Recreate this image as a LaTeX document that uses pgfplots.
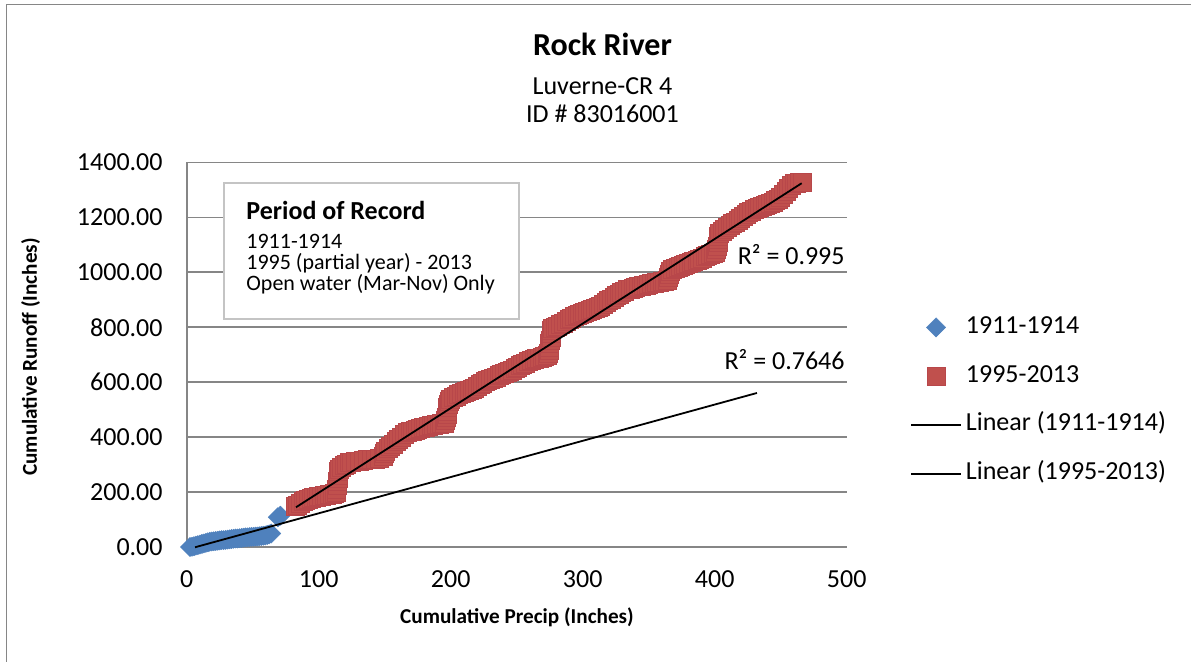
\documentclass[border=0pt]{standalone}
\usepackage{pgfplots}
\pgfplotsset{compat=1.18}
\usepackage{fontspec}
\setmainfont{Carlito}
\definecolor{xblue}{HTML}{4F81BD}
\definecolor{xred}{HTML}{C0504D}
\definecolor{xredd}{HTML}{B8474A}
\definecolor{xgrid}{HTML}{868686}
\definecolor{xbox}{HTML}{C4C4C4}
\begin{document}
\begin{tikzpicture}
\useasboundingbox (0,0) rectangle (595.5pt,-331pt);
\begin{scope}[x=0.5pt,y=-0.5pt]
 \draw[color=xgrid, line width=0.5pt] (6,662) -- (6,5) -- (1191,5);
 \node[anchor=base, font=\fontsize{16}{19}\selectfont\bfseries, inner sep=0pt] at (602.5,56) {Rock River};
 \node[anchor=base, font=\fontsize{13}{15.6}\selectfont, inner sep=0pt] at (602.5,95) {Luverne-CR 4};
 \node[anchor=base, font=\fontsize{13}{15.6}\selectfont, inner sep=0pt] at (602.5,123) {ID \# 83016001};
 \node[anchor=base, font=\fontsize{10.6}{12.7}\selectfont\bfseries, inner sep=0pt] at (517,624) {Cumulative Precip (Inches)};
 \node[anchor=base, rotate=90, font=\fontsize{10.6}{12.7}\selectfont\bfseries, inner sep=0pt] at (37,357) {Cumulative Runoff (Inches)};
\end{scope}
\begin{axis}[
  at={(93.35pt,-273.5pt)}, anchor=south west, scale only axis,
  width=330pt, height=192.25pt,
  xmin=0, xmax=500, ymin=0, ymax=1400,
  clip=false, clip mode=individual,
  axis lines*=left,
  axis line style={xgrid, line width=0.9pt},
  ymajorgrids, grid style={xgrid, line width=0.9pt},
  major tick length=0pt,
  xtick={0,100,200,300,400,500},
  xticklabels={0,100,200,300,400,500},
  ytick={0,200,400,600,800,1000,1200,1400},
  yticklabels={0.00,200.00,400.00,600.00,800.00,1000.00,1200.00,1400.00},
  ticklabel style={font=\fontsize{13}{15.6}\selectfont},
  yticklabel style={anchor=east, inner sep=0pt, xshift=-11.85pt},
  xticklabel style={anchor=base, inner sep=0pt, yshift=-20.5pt},
  legend style={draw=none, fill=none, at={(1.0955,0.6138)}, anchor=north west,
    inner sep=0pt, row sep=8.4pt, font=\fontsize{13}{15.6}\selectfont,
    nodes={inner sep=2pt, text height=9pt, text depth=3pt}},
  legend cell align=left,
  legend image code/.code={\draw[mark repeat=2,mark phase=2,#1] plot coordinates {(0pt,0pt) (12.5pt,0pt) (25pt,0pt)};},
]
\addplot[only marks, mark=square*, mark size=3.4pt, mark options={rotate=45, fill=xblue, draw=xblue, line width=0.2pt}] coordinates {
(2.5,0)(4,1)(5.5,3)(7,5)(8.5,7)(10,9)(11.5,11)(13,13)(14.5,15)(16,17)(17.5,19)(19,20)(20.5,21)(22,22)(23.5,23)(25,24)(26.5,25)(28,25)(29.5,26)(31,27)(32.5,28)(34,29)(35.5,30)(37,31)(38.5,31)(40,32)(41.5,33)(43,34)(44.5,35)(46,35)(47.5,36)(49,37)(50.5,37)(52,38)(53.5,38)(55,39)(56.5,40)(58,41)(59.5,42)(61,44)(62.5,46)(64,49)(69,108)(71,114)
};
\addlegendentry{1911-1914}
\addplot[only marks, mark=square*, mark size=4.5pt, mark options={fill=xred, draw=xredd, line width=0.2pt}] coordinates {
(82,147)(84,153)(86,159)(88,165)(90,170)(92,174)(94,177)(96,180)(98,182)(100,184)(102,186)(104,188)(106,190)(108,192)(110,194)(112,196)
(113,200)(113.5,212)(114,225)(114,238)(114.5,250)(114.5,262)(115,275)(115.5,285)
(117,292)(119,298)(121,303)(123,307)(125,310)(128,312)(131,314)(134,316)(137,318)(140,319)(143,320)(146,322)
(148.5,330)(149.5,340)(150.5,350)(152.5,358)(154.5,366)(156.5,375)(158.5,384)(160.5,393)(162.5,401)(164.5,409)(167,417)
(169,420)(171,423)(173,426)(175,429)(177,432)(179,435)(181,438)(183,441)(185,443)(187,445)(189,447)(191,448)(193,449)(195,450)
(196,460)(196.5,472)(197,484)(197,496)(197.5,508)(198,520)(198.5,530)
(200,537)(202,544)(204,550)(206,555)(208,559)(210,563)(212,567)(214,571)(216,575)(218,580)(220,585)(222,591)(224,597)(226,602)(228,607)(230,612)
(232.5,616)(234.5,620)(236.5,624)(238.5,628)(240.5,632)(242.5,635)(244.5,640)(246.5,645)(248.5,650)(250.5,655)(252.5,661)(254.5,666)(256.5,671)(258.5,676)(261,680)(263,683)(265,686)(267,689)(269,692)(271,695)(273,698)
(274,705)(274.5,717)(275,729)(275,741)(275.5,753)(276,765)(276,777)(276.5,789)(277,796)
(279,800)(281,805)(283,810)(285.5,816)(287.5,822)(289.5,828)(291.5,834)(293.5,839)(295.5,843)(297.5,847)(299.5,851)(301.5,855)(303.5,859)(305.5,862)(307.5,865)(309.5,869)(311.5,873)(313.5,878)(315.5,884)(317.5,890)(319.5,897)(321.5,904)(323.5,911)(325.5,917)(327.5,922)(329.5,927)(331.5,932)(333.5,937)
(336,940)(338,943)(340,946)(342,949)(344,951)(346,953)(348,955)(350,957)(352,959)(354,961)(356,963)(358,965)(360,967)(362,969)(364,972)
(365,982)(365.5,994)(366,1005)
(368,1010)(370,1014)(372,1018)(374,1022)(376,1026)(378,1029)(380,1033)(382,1036)(384,1040)(386.5,1044)(388.5,1048)(390.5,1053)(392.5,1058)(394.5,1062)(396.5,1066)(398.5,1070)(400.5,1074)
(401.5,1085)(402,1097)(402.5,1109)(402.5,1121)(403,1133)(403.5,1142)
(405.5,1150)(407.5,1158)(409.5,1165)(411.5,1172)(413.5,1178)(415.5,1184)(417.5,1190)(419.5,1197)(421.5,1204)(423.5,1211)(425.5,1218)(427.5,1224)(430,1229)(432,1233)(434,1237)(436,1241)(438,1245)(440,1249)(442,1253)(444,1257)(446,1262)
(448,1268)(450,1275)(452,1285)(454,1295)(456,1305)(458,1318)(460,1323)(462,1325)(464,1327)(466,1328)
};
\addlegendentry{1995-2013}
\addplot[black, line width=0.9pt] coordinates {(6.3,-1) (432,560.8)};
\addlegendentry{Linear (1911-1914)}
\addplot[black, line width=0.9pt] coordinates {(82.8,144.6) (465.9,1324.5)};
\addlegendentry{Linear (1995-2013)}
\end{axis}
\begin{scope}[x=0.5pt,y=-0.5pt]
 \draw[xbox, fill=white, line width=1.1pt] (224,183) rectangle (519,319);
 \node[anchor=base west, font=\fontsize{13}{15.6}\selectfont\bfseries, inner sep=0pt] at (246,219.5) {Period of Record};
 \node[anchor=base west, font=\fontsize{11}{13}\selectfont, inner sep=0pt] at (246,249) {1911-1914};
 \node[anchor=base west, font=\fontsize{11}{13}\selectfont, inner sep=0pt] at (246,270) {1995 (partial year) - 2013};
 \node[anchor=base west, font=\fontsize{11}{13}\selectfont, inner sep=0pt] at (246,291) {Open water (Mar-Nov) Only};
 \node[anchor=base east, font=\fontsize{13}{15.6}\selectfont, inner sep=0pt] at (845,264.5) {R² = 0.995};
 \node[anchor=base east, font=\fontsize{13}{15.6}\selectfont, inner sep=0pt] at (845,370) {R² = 0.7646};
\end{scope}
\end{tikzpicture}
\end{document}
